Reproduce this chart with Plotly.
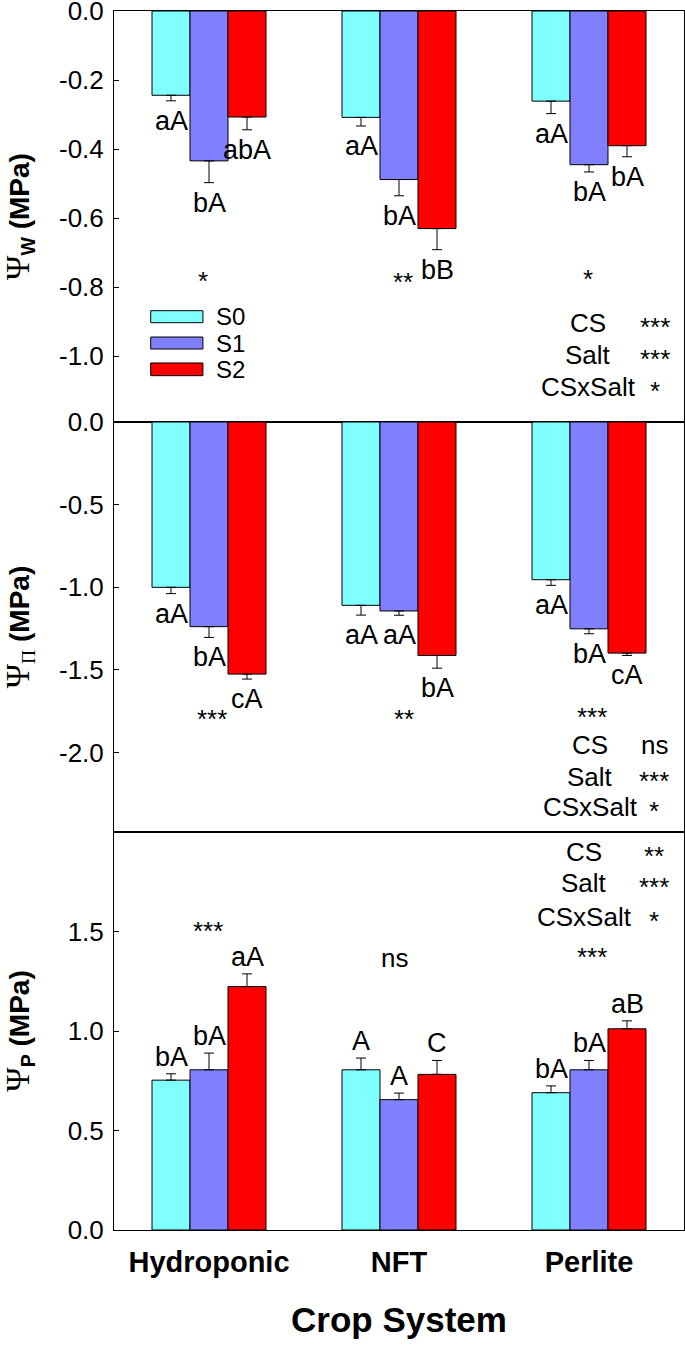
import plotly.graph_objects as go
from plotly.subplots import make_subplots

systems = ["Hydroponic", "NFT", "Perlite"]
salts = ["S0", "S1", "S2"]
colors = ["#80FFFF", "#8080FF", "#FF0000"]

# rows = salt level (S0, S1, S2), columns = crop system
psi_w = [[-0.244, -0.308, -0.261], [-0.434, -0.488, -0.445], [-0.307, -0.630, -0.390]]
psi_w_err = [[0.016, 0.025, 0.036], [0.063, 0.047, 0.021], [0.037, 0.061, 0.032]]
psi_w_letters = [["aA", "aA", "aA"], ["bA", "bA", "bA"], ["abA", "bB", "bA"]]

psi_pi = [[-1.000, -1.109, -0.954], [-1.238, -1.143, -1.251], [-1.525, -1.412, -1.398]]
psi_pi_err = [[0.038, 0.059, 0.034], [0.065, 0.026, 0.030], [0.030, 0.077, 0.014]]
psi_pi_letters = [["aA", "aA", "aA"], ["bA", "aA", "bA"], ["cA", "bA", "cA"]]

psi_p = [[0.753, 0.805, 0.690], [0.805, 0.655, 0.805], [1.223, 0.782, 1.011]]
psi_p_err = [[0.032, 0.059, 0.034], [0.084, 0.033, 0.047], [0.064, 0.070, 0.040]]
psi_p_letters = [["bA", "A", "bA"], ["bA", "A", "bA"], ["aA", "C", "aB"]]

terms = ["CS", "Salt", "CSxSalt"]
anova_w = ["***", "***", "*"]
anova_pi = ["ns", "***", "*"]
anova_p = ["**", "***", "*"]
group_sig_w = ["*", "**", "*"]
group_sig_pi = ["***", "**", "***"]
group_sig_p = ["***", "ns", "***"]

FONT = "Liberation Sans"
W, H = 685, 1359
L, R, T, B = 114, 1, 11, 129

fig = make_subplots(rows=3, cols=1, shared_xaxes=True, vertical_spacing=0,
                    row_heights=[411, 410, 398])

panels = [
    (psi_w, psi_w_err, psi_w_letters, -1),
    (psi_pi, psi_pi_err, psi_pi_letters, -1),
    (psi_p, psi_p_err, psi_p_letters, 1),
]

for r, (vals, errs, letters, sign) in enumerate(panels, start=1):
    for i, s in enumerate(salts):
        zeros = [0] * len(systems)
        if sign < 0:
            ey = dict(type="data", symmetric=False, array=zeros, arrayminus=errs[i])
        else:
            ey = dict(type="data", symmetric=False, array=errs[i], arrayminus=zeros)
        ey.update(color="black", thickness=1, width=5)
        fig.add_trace(go.Bar(x=systems, y=vals[i], name=s, showlegend=False,
                             marker=dict(color=colors[i], line=dict(color="black", width=1)),
                             error_y=ey), row=r, col=1)
        xr = "x" if r == 1 else f"x{r}"
        yr = "y" if r == 1 else f"y{r}"
        for j in range(len(systems)):
            fig.add_annotation(x=j + (i - 1) * 0.2, y=vals[i][j] + sign * errs[i][j],
                               xref=xr, yref=yr, text=letters[i][j], showarrow=False,
                               yanchor="middle", yshift=17 if sign > 0 else -20,
                               font=dict(family=FONT, size=27, color="black"))


def px_note(px, py, text, size=26):
    shift = -4 if set(text) == {"*"} else 0
    fig.add_annotation(x=(px - L) / (W - L - R), y=(H - B - py) / (H - T - B),
                       xref="paper", yref="paper", text=text, showarrow=False,
                       xanchor="center", yanchor="middle", yshift=shift,
                       font=dict(family=FONT, size=size, color="black"))


# per-system significance marks
for j, (px, py) in enumerate([(203, 277), (403, 278), (588, 275)]):
    px_note(px, py, group_sig_w[j])
for j, (px, py) in enumerate([(212, 715), (404, 715), (592, 713)]):
    px_note(px, py, group_sig_pi[j])
for j, (px, py) in enumerate([(208, 927), (394, 958), (592, 953)]):
    px_note(px, py, group_sig_p[j])

# two-way ANOVA summaries
for k, py in enumerate([323, 355, 387]):
    px_note(588, py, terms[k])
    px_note(655, py, anova_w[k])
for k, py in enumerate([745, 777, 807]):
    px_note(590, py, terms[k])
    px_note(654, py, anova_pi[k])
for k, py in enumerate([852, 883, 917]):
    px_note(584, py, terms[k])
    px_note(654, py, anova_p[k])

# legend in the top panel
leg_y = [(0.2708, 0.2416), (0.2068, 0.1776), (0.1436, 0.1127)]
for i, s in enumerate(salts):
    y1, y0 = leg_y[i]
    fig.add_shape(type="rect", xref="x domain", yref="y domain",
                  x0=0.0644, x1=0.156, y0=y0, y1=y1,
                  fillcolor=colors[i], line=dict(color="black", width=1))
    fig.add_annotation(xref="x domain", yref="y domain", x=0.175, y=(y0 + y1) / 2,
                       text=s, showarrow=False, xanchor="left", yanchor="middle",
                       font=dict(family=FONT, size=24, color="black"))

serif = '<span style="font-family:Liberation Serif;font-size:33px">'
serif_sub = '<span style="font-family:Liberation Serif">'
ytitles = [
    serif + "Ψ</span><sub><b>W</b></sub><b> (MPa)</b>",
    serif + "Ψ</span><sub>" + serif_sub + "Π</span></sub><b> (MPa)</b>",
    serif + "Ψ</span><sub><b>P</b></sub><b> (MPa)</b>",
]
yranges = [[-1.19, 0], [-2.48, 0], [0, 2.0]]
yticks = [[0, -0.2, -0.4, -0.6, -0.8, -1.0], [0, -0.5, -1.0, -1.5, -2.0], [0, 0.5, 1.0, 1.5]]

for r in range(1, 4):
    fig.update_yaxes(row=r, col=1, range=yranges[r - 1], tickvals=yticks[r - 1],
                     ticktext=[f"{v:.1f}" for v in yticks[r - 1]],
                     ticks="inside", ticklen=5, tickcolor="black", automargin=False,
                     showline=True, linecolor="black", linewidth=1, mirror=True,
                     showgrid=False, zeroline=False, ticklabelstandoff=4,
                     ticklabeloverflow="allow",
                     tickfont=dict(family=FONT, size=26, color="black"),
                     title=dict(text=ytitles[r - 1], standoff=33,
                                font=dict(family=FONT, size=28, color="black")))
    fig.update_xaxes(row=r, col=1, range=[-0.5, 2.5], showline=True, linecolor="black",
                     linewidth=1, mirror=True, showgrid=False, ticks="", automargin=False)

fig.update_xaxes(row=3, col=1, ticklabelstandoff=6,
                 tickfont=dict(family=FONT, size=29, color="black", weight="bold"),
                 title=dict(text="<b>Crop System</b>", standoff=30,
                            font=dict(family=FONT, size=35, color="black")))

fig.update_layout(width=W, height=H, margin=dict(l=L, r=R, t=T, b=B),
                  barmode="group", bargap=0.4, bargroupgap=0,
                  plot_bgcolor="white", paper_bgcolor="white", showlegend=False)

# drop the browser's default page margin so the figure sits at the window origin
fig.write_html("out.html", config={"displayModeBar": False},
               post_script="document.body.style.margin='0';")
